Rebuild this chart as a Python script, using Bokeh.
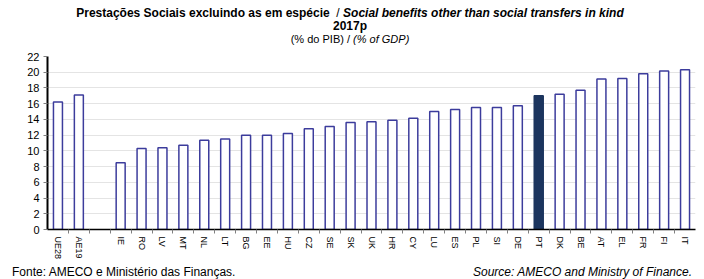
from bokeh.plotting import figure
from bokeh.models import Range1d, FixedTicker, ColumnDataSource, Div
from bokeh.layouts import column
from bokeh.embed import file_html
from bokeh.resources import INLINE

# ---- data ----
countries = ["UE28", "AE19", "IE", "RO", "LV", "MT", "NL", "LT", "BG", "EE", "HU", "CZ",
             "SE", "SK", "UK", "HR", "CY", "LU", "ES", "PL", "SI", "DE", "PT", "DK",
             "BE", "AT", "EL", "FR", "FI", "IT"]
values = [16.2, 17.1, 8.5, 10.3, 10.4, 10.7, 11.35, 11.5, 12.0, 12.0, 12.2, 12.8,
          13.1, 13.6, 13.7, 13.9, 14.15, 15.0, 15.25, 15.5, 15.5, 15.75, 17.0, 17.2,
          17.7, 19.15, 19.2, 19.8, 20.15, 20.3]
highlight = "PT"
y_ticks = [0, 2, 4, 6, 8, 10, 12, 14, 16, 18, 20, 22]

title_pt = "Prestações Sociais excluindo as em espécie"
title_en = "Social benefits other than social transfers in kind"
title_year = "2017p"
unit_pt = "(% do PIB)"
unit_en = "(% of GDP)"
source_pt = "Fonte: AMECO e Ministério das Finanças."
source_en = "Source: AMECO and Ministry of Finance."

# slot positions: two aggregates, one empty slot, then the countries
positions = [0, 1] + list(range(3, 3 + len(countries) - 2))
n_slots = positions[-1] + 1

W = 700
TITLE_H, FIG_H, FOOT_H = 50, 212, 17

fill = ["#1C355E" if c == highlight else "white" for c in countries]
line = ["#1C355E" if c == highlight else "#3C3C9C" for c in countries]
src = ColumnDataSource(dict(x=positions, top=values, fill=fill, line=line, name=countries))

p = figure(width=W, height=FIG_H, output_backend="svg", toolbar_location=None,
           x_range=Range1d(-0.5, n_slots - 0.5), y_range=Range1d(0, 22),
           min_border_left=47, min_border_right=5, min_border_top=6, min_border_bottom=30,
           margin=0)
p.outline_line_color = None
p.background_fill_color = "white"

p.vbar(x="x", top="top", bottom=0, width=0.43, source=src,
       fill_color="fill", line_color="line", line_width=1.5)

# axes
p.yaxis.ticker = FixedTicker(ticks=y_ticks)
p.yaxis.axis_line_color = "black"
p.yaxis.axis_line_width = 2
p.yaxis.major_tick_line_color = "#808080"
p.yaxis.major_tick_out = 4
p.yaxis.major_tick_in = 0
p.yaxis.minor_tick_line_color = None
p.yaxis.major_label_text_font = "Liberation Sans"
p.yaxis.major_label_text_font_size = "11px"
p.yaxis.major_label_text_color = "black"
p.yaxis.major_label_standoff = 4

p.xaxis.ticker = FixedTicker(ticks=positions,
                             minor_ticks=[i - 0.5 for i in range(1, n_slots)])
p.xaxis.major_label_overrides = {pos: c for pos, c in zip(positions, countries)}
p.xaxis.major_label_orientation = "vertical"
p.xaxis.axis_line_color = "black"
p.xaxis.axis_line_width = 1.5
p.xaxis.major_tick_line_color = None
p.xaxis.minor_tick_line_color = "#808080"
p.xaxis.minor_tick_out = 4
p.xaxis.minor_tick_in = 0
p.xaxis.major_label_text_font = "Liberation Sans"
p.xaxis.major_label_text_font_size = "9px"
p.xaxis.major_label_text_color = "black"
p.xaxis.major_label_standoff = 1

p.xgrid.grid_line_color = None
p.ygrid.grid_line_color = "#E4E4E4"
p.ygrid.grid_line_width = 1

title_html = (
    f'<div style="box-sizing:border-box;width:{W}px;padding-top:7px;text-align:center;'
    "color:black;line-height:13px;"
    "font-family:'Liberation Sans',Arial,sans-serif;font-size:12px;white-space:nowrap;\">"
    f"<b>{title_pt}</b>&nbsp; / <b><i>{title_en}</i></b><br>"
    f"<b>{title_year}</b><br>"
    "<span style=\"font-size:11px;\">"
    f"{unit_pt} / <i>{unit_en}</i></span></div>"
)
title_div = Div(text=title_html, width=W, height=TITLE_H, margin=0)

foot_html = (
    f'<div style="box-sizing:border-box;width:{W}px;padding:3px 8px 0 12px;display:flex;'
    "justify-content:space-between;color:black;line-height:14px;white-space:nowrap;"
    "font-family:'Liberation Sans',Arial,sans-serif;font-size:12px;\">"
    f"<span>{source_pt}</span><span><i>{source_en}</i></span></div>"
)
foot_div = Div(text=foot_html, width=W, height=FOOT_H, margin=0)

layout = column(title_div, p, foot_div, spacing=0, margin=0)

open("out.html", "w").write(file_html(layout, INLINE))
